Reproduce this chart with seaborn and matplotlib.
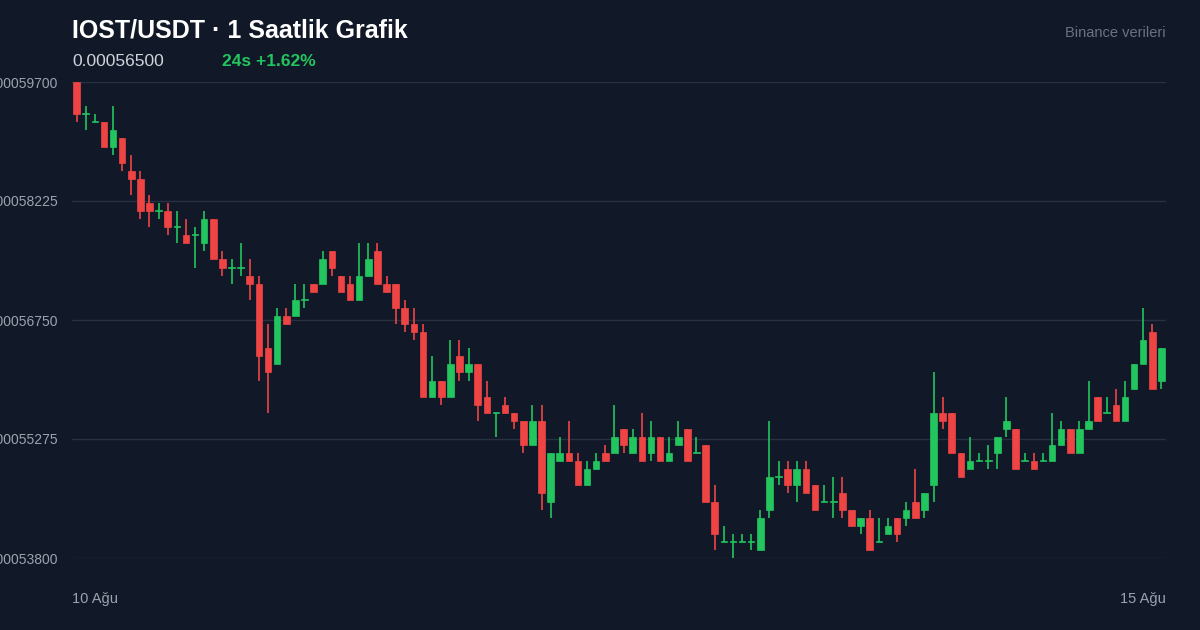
import numpy as np
import pandas as pd
import matplotlib
matplotlib.use("Agg")
import matplotlib.pyplot as plt
import seaborn as sns

# Hourly candles, prices in units of 1e-6 USDT
opens = [597, 593, 592, 592, 589, 590, 586, 585, 582, 581, 581, 579, 578, 578, 577, 580, 575, 574, 574, 573,
         572, 564, 562, 568, 568, 570, 572, 572, 576, 573, 572, 570, 573, 576, 572, 572, 569, 567, 566, 558,
         560, 558, 563, 561, 562, 558, 556, 557, 556, 555, 552, 555, 545, 550, 551, 550, 547, 549, 551, 551,
         554, 551, 553, 551, 553, 550, 552, 554, 551, 552, 545, 540, 540, 540, 540, 539, 544, 548, 549, 547,
         549, 547, 545, 545, 546, 544, 542, 543, 540, 541, 543, 543, 545, 544, 547, 556, 556, 551, 549, 550,
         550, 551, 554, 554, 550, 550, 550, 550, 552, 554, 551, 554, 558, 556, 557, 555, 559, 562, 566, 560]
closes = [593, 593, 592, 589, 591, 587, 585, 581, 581, 581, 579, 579, 577, 578, 580, 575, 574, 574, 574, 572,
          563, 561, 568, 567, 570, 570, 571, 575, 574, 571, 570, 573, 575, 572, 571, 569, 567, 566, 558, 560,
          558, 562, 561, 562, 557, 556, 556, 556, 555, 552, 555, 546, 551, 551, 550, 547, 549, 550, 550, 553,
          552, 553, 550, 553, 550, 551, 553, 550, 551, 545, 541, 540, 540, 540, 540, 543, 548, 548, 547, 549,
          546, 544, 545, 545, 544, 542, 543, 539, 540, 542, 541, 544, 543, 546, 556, 555, 551, 548, 550, 550,
          550, 553, 555, 549, 550, 549, 550, 552, 554, 551, 554, 555, 555, 556, 555, 558, 562, 565, 559, 564]
highs = [597, 594, 593, 592, 594, 590, 588, 586, 583, 582, 582, 581, 580, 579, 581, 580, 576, 575, 577, 575,
         573, 567, 569, 569, 572, 572, 572, 576, 576, 573, 573, 577, 577, 577, 573, 572, 570, 569, 567, 563,
         560, 565, 565, 564, 562, 560, 556, 558, 556, 555, 557, 557, 551, 553, 555, 551, 550, 551, 552, 557,
         554, 554, 556, 555, 553, 553, 555, 554, 553, 552, 547, 542, 541, 541, 541, 544, 555, 550, 550, 550,
         550, 547, 547, 548, 548, 544, 543, 544, 543, 543, 543, 545, 549, 546, 561, 558, 556, 551, 553, 551,
         552, 553, 558, 554, 551, 551, 551, 556, 555, 554, 555, 560, 558, 558, 559, 560, 562, 569, 567, 564]
lows = [592, 591, 592, 589, 588, 586, 583, 580, 579, 580, 578, 577, 577, 574, 576, 575, 573, 572, 573, 570,
        560, 556, 562, 567, 568, 569, 571, 572, 573, 571, 570, 570, 573, 572, 571, 567, 566, 565, 558, 558,
        557, 558, 560, 560, 555, 556, 553, 556, 554, 551, 552, 544, 543, 550, 550, 547, 547, 549, 550, 551,
        551, 551, 550, 550, 550, 550, 552, 550, 551, 545, 539, 540, 538, 540, 539, 539, 543, 547, 546, 545,
        546, 544, 545, 543, 543, 542, 541, 539, 540, 541, 540, 542, 543, 543, 545, 554, 551, 548, 549, 550,
        549, 549, 553, 549, 550, 549, 550, 550, 552, 551, 551, 554, 555, 556, 555, 555, 559, 562, 559, 559]

y_ticks = [0.00053800, 0.00055275, 0.00056750, 0.00058225, 0.00059700]
x_labels = ["10 Ağu", "15 Ağu"]

df = pd.DataFrame({"open": opens, "close": closes, "high": highs, "low": lows}) * 1e-6
df["t"] = np.arange(len(df))
df["up"] = df["close"] >= df["open"]

BG = "#111827"
GREEN = "#22c55e"
RED = "#ef4444"

sns.set_theme(style="dark")
plt.rcParams["font.family"] = ["Liberation Sans", "DejaVu Sans"]

fig = plt.figure(figsize=(12, 6.3), dpi=100, facecolor=BG)
ax = fig.add_axes([72 / 1200, 1 - 558 / 630, (1166 - 72) / 1200, (558 - 82) / 630])
ax.set_facecolor(BG)

colors = np.where(df["up"], GREEN, RED)
ax.vlines(df["t"], df["low"], df["high"], colors=colors, linewidth=1.2, zorder=2)
body_lo = df[["open", "close"]].min(axis=1)
body_h = (df["close"] - df["open"]).abs().clip(lower=0.12e-6)
ax.bar(df["t"], body_h, bottom=body_lo, width=0.72, color=colors, edgecolor=colors,
       linewidth=0.5, zorder=3)

ax.set_xlim(-0.5, len(df) - 0.5)
ax.set_ylim(y_ticks[0], y_ticks[-1])
ax.set_yticks(y_ticks)
ax.set_yticklabels([f"{v:.8f}" for v in y_ticks], color="#9ca3af", fontsize=10)
ax.set_xticks([])
ax.grid(axis="y", color="#273142", linewidth=1)
ax.grid(axis="x", visible=False)
ax.tick_params(axis="y", length=0, pad=10)
for s in ax.spines.values():
    s.set_visible(False)

fig.text(72 / 1200, 1 - 30 / 630, "IOST/USDT · 1 Saatlik Grafik", color="white",
         fontsize=18, fontweight="bold", va="center", ha="left")
fig.text(72 / 1200, 1 - 61 / 630, "0.00056500", color="#d1d5db", fontsize=12.5,
         va="center", ha="left")
fig.text(222 / 1200, 1 - 61 / 630, "24s +1.62%", color=GREEN, fontsize=12.5,
         fontweight="bold", va="center", ha="left")
fig.text(1166 / 1200, 1 - 33 / 630, "Binance verileri", color="#6b7280", fontsize=10.5,
         va="center", ha="right")
fig.text(72 / 1200, 1 - 599 / 630, x_labels[0], color="#9ca3af", fontsize=10.5,
         va="center", ha="left")
fig.text(1166 / 1200, 1 - 599 / 630, x_labels[1], color="#9ca3af", fontsize=10.5,
         va="center", ha="right")

fig.savefig("out.png", dpi=100, facecolor=BG)
